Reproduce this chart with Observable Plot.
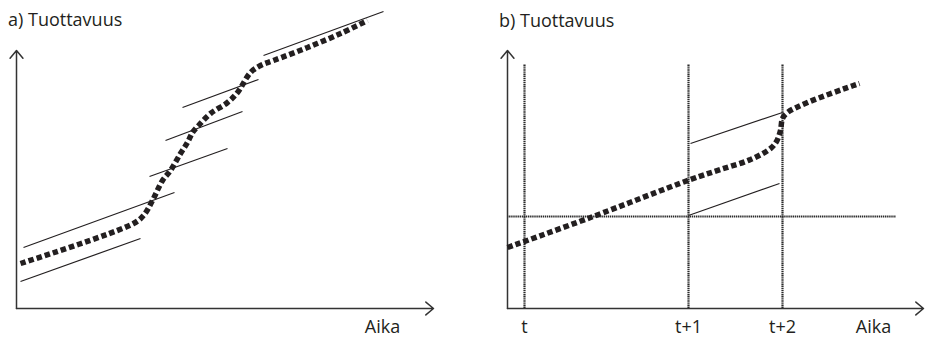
<!DOCTYPE html>
<html>
<head>
<meta charset="utf-8">
<script src="https://cdn.jsdelivr.net/npm/d3@7"></script>
<script src="https://cdn.jsdelivr.net/npm/@observablehq/plot@0.6"></script>
<style>
  body { margin: 0; background: #fff; }
  #wrap { position: relative; width: 926px; height: 337px; display: flex; }
  .ttl { position: absolute; font-family: "Open Sans", sans-serif; font-size: 18px; line-height: 18px; color: #231f20; white-space: nowrap; }
</style>
</head>
<body>
<div id="wrap">
  <div class="ttl" style="left:8px; top:10px">a) Tuottavuus</div>
  <div class="ttl" style="left:499px; top:11px">b) Tuottavuus</div>
</div>
<script>
// ---------- Panel a: productivity curve (S-steps) ----------
const aCurveX = [1, 29.25, 31.75, 34, 36.5, 38.5, 41, 42.75, 44, 45.5, 48.5, 52.75, 55.25, 58.5, 61, 64.25, 72.75, 81, 87.75];
const aCurveY = [11.25, 21.25, 23.25, 27, 32, 34.5, 38.75, 41.5, 44, 45.75, 48.75, 51.5, 54, 59, 60.75, 62, 65.25, 68.75, 72];
// tangent segments in panel a
const aSegX1 = [1.75, 1, 33.25, 37.25, 41.5, 61.75];
const aSegY1 = [15.25, 6.75, 33, 42, 50.25, 63.25];
const aSegX2 = [39.5, 31, 52.75, 56.5, 60.5, 91.75];
const aSegY2 = [29, 17.5, 40, 49.25, 57.25, 74.25];
const aTickPos = [91.5];
const aTickLabels = ["Aika"];

// ---------- Panel b ----------
const bCurveX = [0, 20.75, 45.75, 53.25, 60.75, 65.75, 67.25, 68.25, 68.75, 70, 75, 86.5, 88];
const bCurveY = [15.25, 22.75, 32.25, 34.75, 37.25, 40, 41.75, 44.5, 47.5, 49, 51.5, 55.75, 56.25];
const bSegX1 = [45.75, 45.25];
const bSegY1 = [41.25, 23.25];
const bSegX2 = [68.75, 68];
const bSegY2 = [49, 31.25];
const bVLines = [4.25, 45.25, 68.75];
const bVTop = 61;
const bHLineY = 23;
const bHLineEnd = 97.25;
const bTickPos = [4.25, 45.25, 68.75, 91.5];
const bTickLabels = ["t", "t+1", "t+2", "Aika"];

const ink = "#231f20";
const style = {fontFamily: "'Open Sans', sans-serif", fontSize: "18px", color: ink, background: "transparent", overflow: "visible"};

function segs(x1, y1, x2, y2) { return x1.map((d, i) => ({x1: d, y1: y1[i], x2: x2[i], y2: y2[i]})); }
function pts(xs, ys) { return xs.map((d, i) => ({x: d, y: ys[i]})); }

function axesArrows(xMax, yMax) {
  return [
    Plot.arrow([{x1: 0, y1: 0, x2: 0, y2: yMax}], {x1: "x1", y1: "y1", x2: "x2", y2: "y2", stroke: "#333", strokeWidth: 1.5, headAngle: 80, headLength: 10}),
    Plot.arrow([{x1: 0, y1: 0, x2: xMax, y2: 0}], {x1: "x1", y1: "y1", x2: "x2", y2: "y2", stroke: "#333", strokeWidth: 1.5, headAngle: 80, headLength: 10})
  ];
}

const dotted = {stroke: ink, strokeWidth: 5.5, strokeDasharray: "5.5,3", strokeLinecap: "butt", strokeLinejoin: "miter", curve: "catmull-rom"};
const gridDots = {stroke: "#2a2a2a", strokeWidth: 2.2, strokeDasharray: "1.4,0.7"};

const plotA = Plot.plot({
  width: 463, height: 337,
  marginLeft: 16, marginRight: 30, marginTop: 8, marginBottom: 29,
  x: {domain: [0, 104.25], axis: null},
  y: {domain: [0, 75], axis: null},
  style,
  marks: [
    ...axesArrows(104.25, 64.5),
    Plot.link(segs(aSegX1, aSegY1, aSegX2, aSegY2), {x1: "x1", y1: "y1", x2: "x2", y2: "y2", stroke: ink, strokeWidth: 1.2}),
    Plot.line(pts(aCurveX, aCurveY), {x: "x", y: "y", ...dotted}),
    Plot.axisX({ticks: aTickPos, tickFormat: (d, i) => aTickLabels[i], tickSize: 0, tickPadding: 12, fontSize: 18, fill: ink})
  ]
});

const plotB = Plot.plot({
  width: 463, height: 337,
  marginLeft: 44, marginRight: 3, marginTop: 8, marginBottom: 29,
  x: {domain: [0, 104], axis: null},
  y: {domain: [0, 75], axis: null},
  style,
  marks: [
    Plot.ruleX(bVLines, {x: d => d, y1: 0, y2: bVTop, ...gridDots}),
    Plot.ruleY([bHLineY], {y: d => d, x1: 0, x2: bHLineEnd, ...gridDots}),
    ...axesArrows(104, 64.5),
    Plot.link(segs(bSegX1, bSegY1, bSegX2, bSegY2), {x1: "x1", y1: "y1", x2: "x2", y2: "y2", stroke: ink, strokeWidth: 1.2}),
    Plot.line(pts(bCurveX, bCurveY), {x: "x", y: "y", ...dotted}),
    Plot.axisX({ticks: bTickPos, tickFormat: (d, i) => bTickLabels[i], tickSize: 0, tickPadding: 12, fontSize: 18, fill: ink})
  ]
});

const wrap = document.getElementById("wrap");
wrap.insertBefore(plotB, wrap.firstChild);
wrap.insertBefore(plotA, wrap.firstChild);
</script>
</body>
</html>
